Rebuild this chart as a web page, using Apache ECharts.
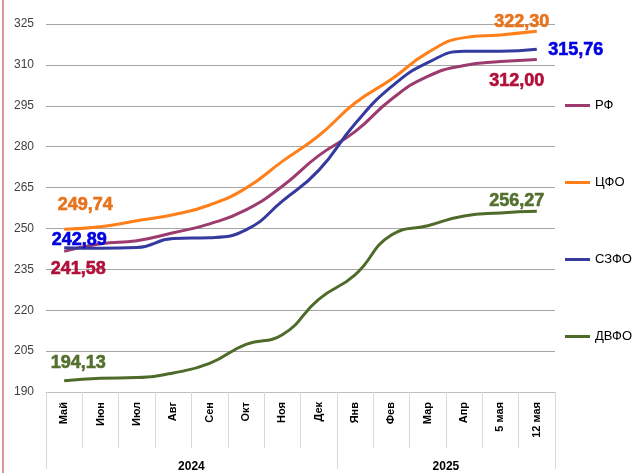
<!DOCTYPE html>
<html>
<head>
<meta charset="utf-8">
<script src="https://cdn.jsdelivr.net/npm/echarts@6/dist/echarts.min.js"></script>
<style>
  html, body { margin: 0; padding: 0; background: #fff; }
  #chart { width: 635px; height: 473px; position: relative; }
  #edge { position: absolute; left: 2px; top: 0; width: 2px; height: 473px; background: #d99694; }
</style>
</head>
<body>
<div id="chart"></div>
<div id="edge"></div>
<script>
// категории (месяцы) и годы
const months = ['Май', 'Июн', 'Июл', 'Авг', 'Сен', 'Окт', 'Ноя', 'Дек', 'Янв', 'Фев', 'Мар', 'Апр', '5 мая', '12 мая'];
const years = ['2024', '2025'];
const yearSpans = [8, 6];

// значения рядов
const rf   = [241.58, 244.4, 245.5, 248.4, 251.7, 256.8, 265.5, 276.7, 285.5, 297.4, 305.8, 309.8, 311.2, 312.00];
const cfo  = [249.74, 250.6, 252.8, 255.0, 258.6, 264.8, 274.6, 284.0, 296.0, 304.7, 314.5, 320.0, 321.0, 322.30];
const szfo = [242.89, 242.7, 243.0, 246.3, 246.6, 249.5, 260.0, 271.3, 288.4, 302.0, 310.8, 315.0, 315.0, 315.76];
const dvfo = [194.13, 195.0, 195.3, 197.0, 200.5, 207.5, 211.0, 224.0, 233.0, 247.6, 251.0, 254.6, 255.7, 256.27];

const fmt = v => v.toFixed(2).replace('.', ',');
const font = '"Liberation Sans", Arial, sans-serif';

// подписи первой и последней точки: смещения
function withLabels(values, color, firstOffset, lastOffset) {
  return values.map((v, i) => {
    if (i === 0 || i === values.length - 1) {
      return {
        value: v,
        label: {
          show: true,
          position: 'inside',
          offset: i === 0 ? firstOffset : lastOffset,
          formatter: p => fmt(p.value),
          color: color,
          fontSize: 18,
          fontWeight: 700,
          fontFamily: font,
          textBorderColor: color,
          textBorderWidth: 0.6
        }
      };
    }
    return v;
  });
}

// центры подписей лет
const yearCenters = [];
const yearBounds = [0];
let acc = 0;
yearSpans.forEach(s => { yearCenters.push(acc + s / 2); acc += s; yearBounds.push(acc); });

const chart = echarts.init(document.getElementById('chart'));

function lineSeries(name, data, color) {
  return {
    name: name,
    type: 'line',
    smooth: true,
    symbol: 'circle',
    symbolSize: 0,
    showSymbol: true,
    lineStyle: { width: 3, color: color },
    itemStyle: { color: color },
    label: { fontWeight: 700, fontFamily: font },
    data: data
  };
}

const option = {
  animation: false,
  grid: { left: 46, right: 80, top: 24, bottom: 77 },
  legend: {
    orient: 'vertical',
    left: 560,
    top: 94,
    itemGap: 64,
    itemWidth: 25,
    itemHeight: 3,
    icon: 'rect',
    textStyle: { color: '#000', fontSize: 13, fontFamily: font },
    data: ['РФ', 'ЦФО', 'СЗФО', 'ДВФО']
  },
  xAxis: [
    {
      type: 'category',
      data: months,
      boundaryGap: true,
      axisLine: { lineStyle: { color: '#bfbfbf' } },
      axisTick: { show: true, length: 56, lineStyle: { color: '#d9d9d9' } },
      axisLabel: {
        rotate: 90,
        margin: 10,
        color: '#000',
        fontSize: 11,
        fontWeight: 'bold',
        fontFamily: font
      }
    },
    {
      type: 'value',
      min: 0,
      max: months.length,
      position: 'bottom',
      axisLine: { show: false },
      splitLine: { show: false },
      axisTick: { show: true, customValues: yearBounds, length: 77, lineStyle: { color: '#d9d9d9' } },
      axisLabel: {
        customValues: yearCenters,
        margin: 69,
        color: '#000',
        fontSize: 12,
        fontWeight: 'bold',
        fontFamily: font,
        formatter: v => years[yearCenters.indexOf(v)]
      }
    }
  ],
  yAxis: {
    type: 'value',
    min: 190,
    max: 325,
    interval: 15,
    axisLine: { show: false },
    axisTick: { show: false },
    axisLabel: { color: '#404040', fontSize: 12, margin: 12, fontFamily: font },
    splitLine: { lineStyle: { color: '#a6a6a6' } }
  },
  series: [
    lineSeries('РФ', withLabels(rf, '#b0103a', [14, 18], [-20, 22]), '#9b3b6e'),
    lineSeries('ЦФО', withLabels(cfo, '#e8731c', [21, -24], [-15, -9]), '#ff7f1a'),
    lineSeries('СЗФО', withLabels(szfo, '#0000e0', [15, -8], [39, 1]), '#353a9e'),
    lineSeries('ДВФО', withLabels(dvfo, '#53702e', [14, -18], [-20, -10]), '#4f6b2a')
  ]
};

chart.setOption(option);
</script>
</body>
</html>
